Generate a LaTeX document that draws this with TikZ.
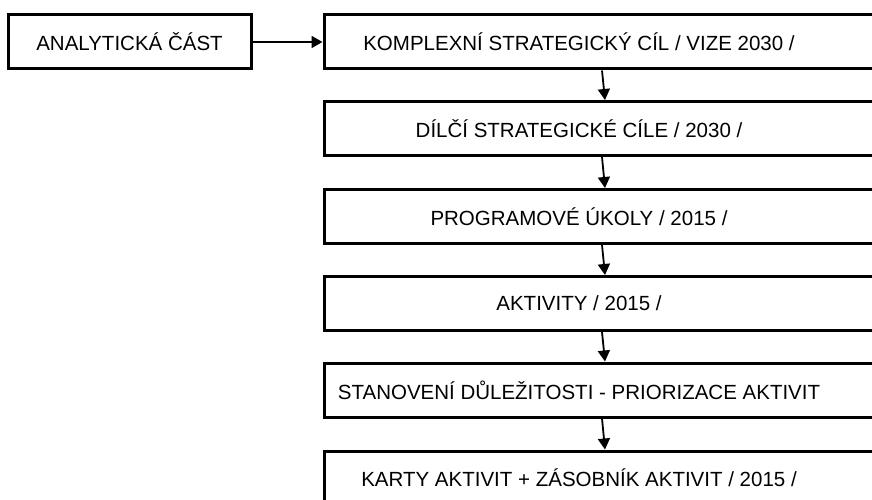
\documentclass[tikz,border=0pt]{standalone}
\usepackage{fontspec}
\setmainfont{Liberation Sans}
\usetikzlibrary{calc,arrows.meta}

\begin{document}
\begin{tikzpicture}[x=1pt,y=-1pt,
    stagebox/.style={draw,line width=3pt,minimum width=556pt,minimum height=54pt,inner sep=0pt},
    startbox/.style={draw,line width=3pt,minimum width=243pt,minimum height=54pt,inner sep=0pt},
    flowarrow/.style={line width=1.8pt,-{Triangle[length=11pt,width=12pt]}}]
  \useasboundingbox (0,0) rectangle (872,500);
  \clip (0,0) rectangle (872,500);
  \fontsize{20.5pt}{24pt}\selectfont

  %% Starting box on the left
  \node[startbox] (AC) at (129.5,42) {ANALYTICKÁ ČÁST};

  %% Column of stages (right part runs past the page edge)
  \node[stagebox,label={[xshift=-23pt]center:KOMPLEXNÍ STRATEGICKÝ CÍL / VIZE 2030 /}] (K1) at (602,42) {};
  \node[stagebox,label={[xshift=-23pt]center:DÍLČÍ STRATEGICKÉ CÍLE / 2030 /}] (K2) at (602,128.5) {};
  \node[stagebox,label={[xshift=-23pt]center:PROGRAMOVÉ ÚKOLY / 2015 /}] (K3) at (602,216.5) {};
  \node[stagebox,label={[xshift=-23pt]center:AKTIVITY / 2015 /}] (K4) at (602,303.5) {};
  \node[stagebox,label={[xshift=-23pt]center:STANOVENÍ DŮLEŽITOSTI - PRIORIZACE AKTIVIT}] (K5) at (602,390) {};
  \node[stagebox,label={[xshift=-23pt]center:KARTY AKTIVIT + ZÁSOBNÍK AKTIVIT / 2015 /}] (K6) at (602,478) {};

  %% Connectors
  \draw[flowarrow] (AC.east) -- (K1.west);
  \foreach \a/\b in {K1/K2,K2/K3,K3/K4,K4/K5,K5/K6}
  {
    \draw[flowarrow] (\a.south) -- ([xshift=3pt]\b.north);
  }
\end{tikzpicture}
\end{document}
